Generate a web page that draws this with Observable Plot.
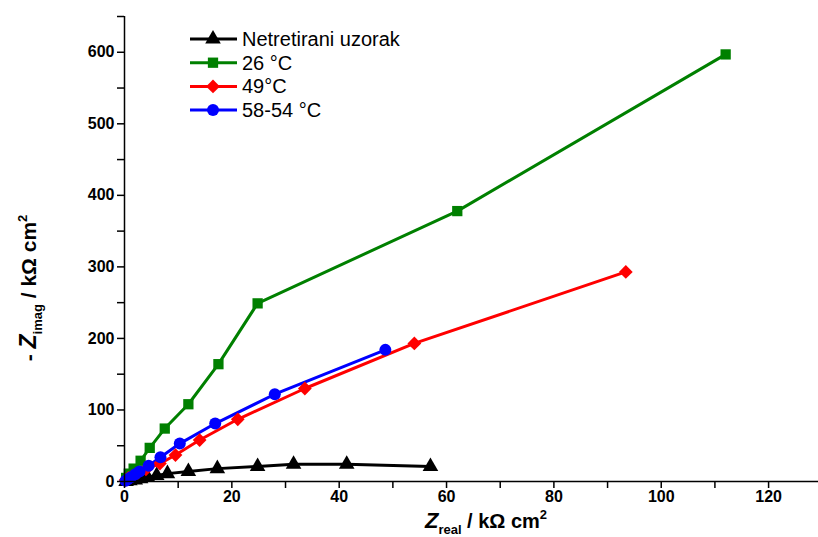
<!DOCTYPE html>
<html>
<head>
<meta charset="utf-8">
<script src="https://cdn.jsdelivr.net/npm/d3@7"></script>
<script src="https://cdn.jsdelivr.net/npm/@observablehq/plot@0.6"></script>
<style>
  html, body { margin: 0; padding: 0; background: #fff; }
  #chart { position: relative; width: 818px; height: 537px; }
  svg { font-family: "Liberation Sans", Arial, sans-serif; }
</style>
</head>
<body>
<div id="chart"></div>
<script>
// ---- data ----
const seriesNames = ["Netretirani uzorak", "26 °C", "49°C", "58-54 °C"];
const seriesColors = ["#000000", "#008000", "#ff0000", "#0000ff"];
const seriesSymbols = ["triangle", "square", "diamond2", "circle"];

const untreatedX = [0.3, 1, 2, 3, 4.3, 6, 8, 11.9, 17.3, 24.8, 31.5, 41.4, 57];
const untreatedY = [0, 1, 2, 4, 6, 8.5, 11, 14, 18, 21, 24, 24, 21];

const t26X = [0.3, 0.8, 1.7, 3, 4.7, 7.5, 11.9, 17.5, 24.8, 62, 112];
const t26Y = [5, 11, 18, 29, 47, 74, 108, 164, 249, 378, 597];

const t49X = [0.2, 0.7, 1.5, 2.5, 4, 6.6, 9.5, 14, 21.1, 33.6, 54, 93.4];
const t49Y = [2, 5, 8, 12, 17, 25, 37, 58, 87, 130, 193, 293];

const t58X = [0.2, 0.6, 1.2, 2, 2.8, 4.5, 6.7, 10.3, 16.9, 28, 48.6];
const t58Y = [1, 3, 6, 10, 14, 22, 34, 53, 81, 122, 184];

const xMajorTicks = [0, 20, 40, 60, 80, 100, 120];
const xMinorTicks = [10, 30, 50, 70, 90, 110];
const yMajorTicks = [0, 100, 200, 300, 400, 500, 600];
const yMinorTicks = [50, 150, 250, 350, 450, 550, 650];

// ---- build table ----
const seriesXY = [[untreatedX, untreatedY], [t26X, t26Y], [t49X, t49Y], [t58X, t58Y]];
const rows = [];
seriesXY.forEach(([xs, ys], i) => {
  xs.forEach((x, j) => rows.push({series: seriesNames[i], x, y: ys[j]}));
});

const fontFamily = '"Liberation Sans", Arial, sans-serif';
const markerR = {"Netretirani uzorak": 5.8, "26 °C": 5.8, "49°C": 6.2, "58-54 °C": 6};

const plot = Plot.plot({
  width: 818,
  height: 537,
  marginLeft: 124,
  marginRight: 0,
  marginTop: 16,
  marginBottom: 56,
  style: {fontFamily, background: "white", overflow: "visible"},
  x: {domain: [0, 129.3], label: null},
  y: {domain: [0, 650], label: null},
  color: {domain: seriesNames, range: seriesColors},
  symbol: {domain: seriesNames, range: seriesSymbols},
  marks: [
    Plot.line(rows, {x: "x", y: "y", z: "series", stroke: "series", strokeWidth: 3}),
    ...seriesNames.map(name =>
      Plot.dot(rows.filter(d => d.series === name), {
        x: "x", y: "y", fill: "series", symbol: "series", r: markerR[name], stroke: "none"
      })
    ),
    Plot.axisX({ticks: xMajorTicks, tickSize: 7, tickPadding: 2, fontSize: 16, fontWeight: "bold", tickFormat: d => d, strokeWidth: 1.5}),
    Plot.axisX({ticks: xMinorTicks, tickSize: 7, tickFormat: () => "", strokeWidth: 1.5}),
    Plot.axisY({ticks: yMajorTicks, tickSize: 7, tickPadding: 3, fontSize: 16, fontWeight: "bold", tickFormat: d => d, strokeWidth: 1.5}),
    Plot.axisY({ticks: yMinorTicks, tickSize: 7, tickFormat: () => "", strokeWidth: 1.5}),
    Plot.ruleX([0], {strokeWidth: 1.5}),
    Plot.ruleY([0], {strokeWidth: 1.5})
  ]
});

document.getElementById("chart").appendChild(plot);

// ---- axis titles and legend ----
const svg = d3.select(plot);

// x title
const xt = svg.append("text")
  .attr("x", 486).attr("y", 528)
  .attr("text-anchor", "middle")
  .attr("font-family", fontFamily)
  .attr("font-weight", "bold")
  .attr("font-size", 20)
  .attr("fill", "black");
xt.append("tspan").attr("font-style", "italic").attr("font-size", 22).text("Z");
xt.append("tspan").attr("font-size", 13).attr("dy", 6).text("real");
xt.append("tspan").attr("dy", -6).text(" / kΩ cm");
xt.append("tspan").attr("font-size", 13).attr("dy", -9).text("2");

// y title
const yt = svg.append("text")
  .attr("transform", "translate(36,288) rotate(-90)")
  .attr("text-anchor", "middle")
  .attr("font-family", fontFamily)
  .attr("font-weight", "bold")
  .attr("font-size", 21)
  .attr("fill", "black");
yt.append("tspan").text("- ");
yt.append("tspan").attr("font-style", "italic").attr("font-size", 23).text("Z");
yt.append("tspan").attr("font-size", 13).attr("dy", 6).text("imag");
yt.append("tspan").attr("dy", -6).text(" / kΩ cm");
yt.append("tspan").attr("font-size", 13).attr("dy", -9).text("2");

// legend
const legend = svg.append("g").attr("text-anchor", "start");
seriesNames.forEach((name, i) => {
  const y = 39 + i * 23.7;
  const g = legend.append("g").attr("transform", `translate(0,${y})`);
  g.append("line").attr("x1", 190).attr("x2", 237).attr("y1", 0).attr("y2", 0)
    .attr("stroke", seriesColors[i]).attr("stroke-width", 3);
  const symMap = {triangle: d3.symbolTriangle, square: d3.symbolSquare, diamond2: d3.symbolDiamond2, circle: d3.symbolCircle};
  const r = markerR[name];
  g.append("path")
    .attr("transform", "translate(213,0)")
    .attr("d", d3.symbol(symMap[seriesSymbols[i]], Math.PI * r * r)())
    .attr("fill", seriesColors[i]);
  g.append("text").attr("x", 242).attr("y", 0).attr("dy", "0.35em")
    .attr("text-anchor", "start")
    .attr("font-family", fontFamily).attr("font-size", 20).attr("fill", "black")
    .text(name);
});
</script>
</body>
</html>
